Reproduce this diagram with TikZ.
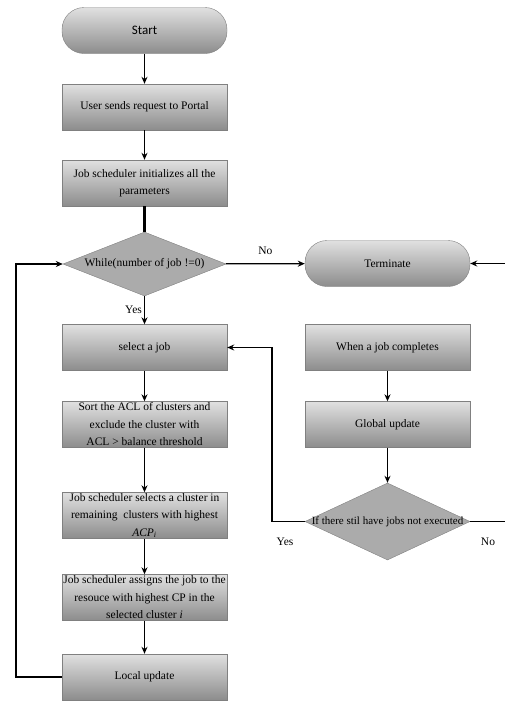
\documentclass[tikz,border=0pt]{standalone}
\usepackage{fontspec}
\setmainfont{Liberation Serif}
\newfontfamily\startfont{Carlito}
\usetikzlibrary{shapes.geometric,arrows.meta}

\tikzset{
  box/.style={draw=black!50, top color=black!12, bottom color=black!45,
    minimum width=165pt, minimum height=46pt, inner xsep=1pt, inner ysep=0pt,
    align=center, font=\fontsize{11.5}{17.5}\selectfont},
  term/.style={box, rounded corners=22pt},
  cond/.style={diamond, draw=black!50, fill=black!33, inner sep=0pt,
    font=\fontsize{11.5}{13}\selectfont},
  conn/.style={line width=1.3pt, -{Stealth[length=7pt,width=6pt]}},
  lab/.style={font=\fontsize{11.5}{13}\selectfont, inner sep=1pt},
}

\begin{document}
\begin{tikzpicture}[x=1pt,y=-1pt]
\useasboundingbox (0,0) rectangle (505,702);
% main column
\node[term,font=\startfont\fontsize{13}{15}\selectfont] (start) at (144.5,30.5) {Start};
\node[box] (req) at (144.5,107) {User sends request to Portal};
\node[box] (init) at (144.5,183) {Job scheduler initializes all the\\parameters};
\node[cond,aspect=2.5,minimum width=163pt,minimum height=64pt] (while) at (144.5,264) {While(number of job !=0)};
\node[box] (sel) at (144.5,347.5) {select a job};
\node[box] (sort) at (144.5,424.5) {Sort the ACL of clusters and\\exclude the cluster with\\ACL > balance threshold};
\node[box] (pick) at (144.5,515.5) {Job scheduler selects a cluster in\\remaining\ \ clusters with highest\\\textit{ACP}\textsubscript{\textit{i}}};
\node[box] (assign) at (144.5,597.5) {Job scheduler assigns the job to the\\resouce with highest CP in the\\selected cluster \textit{i}};
\node[box] (local) at (144.5,677) {Local update};
% right column
\node[term] (stop) at (387.5,263.5) {Terminate};
\node[box] (done) at (387.5,347.5) {When a job completes};
\node[box] (glob) at (387.5,424.5) {Global update};
\node[cond,aspect=2.1,minimum width=165pt,minimum height=77pt,
  label={[lab,font=\fontsize{11}{13}\selectfont]center:If there stil have jobs not executed}] (check) at (387.5,521.5) {};
% helper coordinates for the loops
\coordinate (loopx) at (16,0);
\coordinate (backx) at (272,0);
\coordinate (edgex) at (512,0);

\draw[conn] (start) -- (req);
\draw[conn] (req) -- (init);
\draw[line width=3pt] (init) -- (while);
\draw[conn] (while) -- node[lab,left=1pt] {Yes} (sel);
\draw[conn] (while) -- node[lab,above=7pt] {No} (stop);
\draw[conn] (sel) -- (sort);
\draw[conn] (sort) -- (pick);
\draw[conn] (pick) -- (assign);
\draw[conn] (assign) -- (local);
\draw[conn] (local.west) -- (local.west -| loopx) |- (while.west);
\draw[conn] (done) -- (glob);
\draw[conn] (glob) -- (check);
\draw[conn] (check.west) -- (check.west -| backx) |- (sel.east);
\draw[conn] (check.east) -- (check.east -| edgex) |- (stop.east);
\node[lab] (yes2) at (285,542) {Yes};
\node[lab] (no2) at (488,542) {No};
\end{tikzpicture}
\end{document}
